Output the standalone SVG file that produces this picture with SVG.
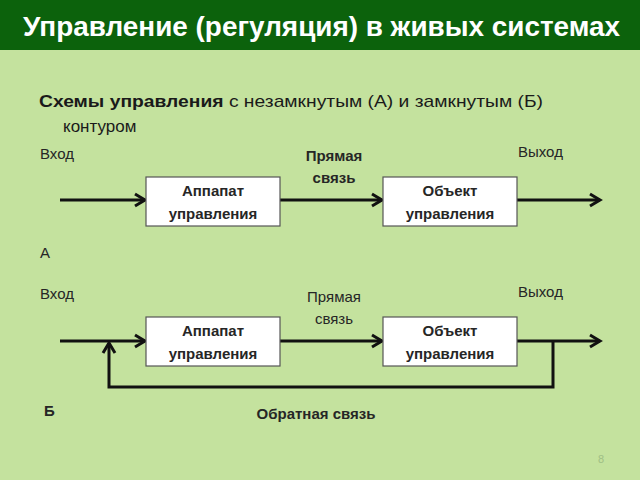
<svg xmlns="http://www.w3.org/2000/svg" width="640" height="480" viewBox="0 0 640 480">
<defs>
<style>
.lbl{font-family:"Liberation Sans","DejaVu Sans",sans-serif;font-size:15px;fill:#262626}
.b{font-weight:bold}
.box{fill:#ffffff;stroke:#555555;stroke-width:1.2}
.ln{stroke:#111111;stroke-width:3;fill:none}
</style>
<marker id="ah" markerUnits="userSpaceOnUse" markerWidth="16" markerHeight="16" refX="12" refY="8" orient="auto">
<polyline points="2,2 12,8 2,14" fill="none" stroke="#111111" stroke-width="3" stroke-linejoin="miter"/>
</marker>
</defs>
<rect width="640" height="480" fill="#c4e29e"/>
<rect width="640" height="50" fill="#0c620c"/>
<text x="23" y="36" font-family="Liberation Sans, Arial, sans-serif" font-size="28" font-weight="bold" fill="#ffffff" textLength="597" lengthAdjust="spacingAndGlyphs">Управление (регуляция) в живых системах</text>
<text x="39" y="107" font-family="Liberation Sans, Arial, sans-serif" font-size="17" fill="#1a1a1a" textLength="504" lengthAdjust="spacingAndGlyphs"><tspan font-weight="bold">Схемы управления</tspan> с незамкнутым (А) и замкнутым (Б)</text>
<text x="63" y="132" font-family="Liberation Sans, Arial, sans-serif" font-size="17" fill="#1a1a1a">контуром</text>

<g id="connectors">
<line class="ln" x1="60" y1="200" x2="145" y2="200" marker-end="url(#ah)"/>
<line class="ln" x1="280" y1="200" x2="382" y2="200" marker-end="url(#ah)"/>
<line class="ln" x1="517" y1="200" x2="600" y2="200" marker-end="url(#ah)"/>
<line class="ln" x1="60" y1="341" x2="145" y2="341" marker-end="url(#ah)"/>
<line class="ln" x1="280" y1="341" x2="382" y2="341" marker-end="url(#ah)"/>
<line class="ln" x1="517" y1="341" x2="600" y2="341" marker-end="url(#ah)"/>
<polyline class="ln" points="553,341 553,387 109,387 109,343" marker-end="url(#ah)"/>
</g>

<g id="a-labels">
<text class="lbl" x="40" y="159">Вход</text>
<text class="lbl" x="518" y="157">Выход</text>
<text class="lbl b" x="334" y="161" text-anchor="middle">Прямая</text>
<text class="lbl b" x="334" y="183" text-anchor="middle">связь</text>
<text class="lbl" x="40" y="258">А</text>
</g>
<g id="a-apparat">
<rect class="box" x="146" y="177" width="134" height="49"/>
<text class="lbl b" x="213" y="196" text-anchor="middle">Аппапат</text>
<text class="lbl b" x="213" y="219" text-anchor="middle">управления</text>
</g>
<g id="a-object">
<rect class="box" x="383" y="177" width="134" height="49"/>
<text class="lbl b" x="450" y="196" text-anchor="middle">Объект</text>
<text class="lbl b" x="450" y="219" text-anchor="middle">управления</text>
</g>

<g id="b-labels">
<text class="lbl" x="40" y="299">Вход</text>
<text class="lbl" x="518" y="297">Выход</text>
<text class="lbl" x="334" y="302" text-anchor="middle">Прямая</text>
<text class="lbl" x="334" y="324" text-anchor="middle">связь</text>
<text class="lbl b" x="44" y="416">Б</text>
<text class="lbl b" x="316" y="419" text-anchor="middle">Обратная связь</text>
</g>
<g id="b-apparat">
<rect class="box" x="146" y="317" width="134" height="49"/>
<text class="lbl b" x="213" y="336" text-anchor="middle">Аппапат</text>
<text class="lbl b" x="213" y="359" text-anchor="middle">управления</text>
</g>
<g id="b-object">
<rect class="box" x="383" y="317" width="134" height="49"/>
<text class="lbl b" x="450" y="336" text-anchor="middle">Объект</text>
<text class="lbl b" x="450" y="359" text-anchor="middle">управления</text>
</g>
<text x="598" y="463" font-family="Liberation Sans, Arial, sans-serif" font-size="11" fill="#9fbf85">8</text>
</svg>
